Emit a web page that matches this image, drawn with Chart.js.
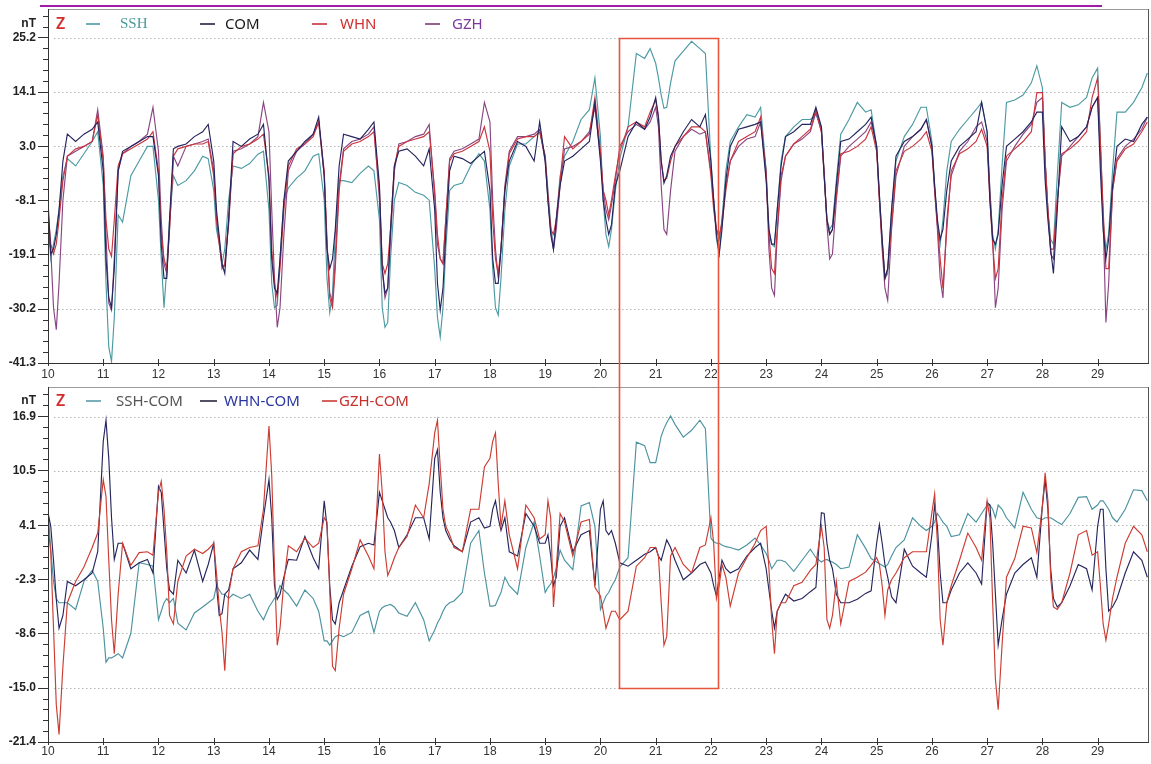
<!DOCTYPE html>
<html><head><meta charset="utf-8">
<script src="https://cdn.jsdelivr.net/npm/chart.js@4.4.1/dist/chart.umd.min.js"></script>
<style>
html,body{margin:0;padding:0;background:#fff;}
#wrap{position:relative;width:1151px;height:764px;overflow:hidden;background:#fff;}
#c1{position:absolute;left:0;top:0;}
#c2{position:absolute;left:0;top:382px;}
#rule{position:absolute;left:40px;top:5px;width:1062px;height:2px;background:#a01ca8;}
</style></head><body>
<div id="wrap">
<canvas id="c1" width="1151" height="382"></canvas>
<canvas id="c2" width="1151" height="382"></canvas>
<div id="rule"></div>
</div>
<script>
// ---------- data ----------
const days = [10,11,12,13,14,15,16,17,18,19,20,21,22,23,24,25,26,27,28,29];
const dayOffsets = [0,0.05,0.1,0.15,0.2,0.27,0.35,0.5,0.65,0.8,0.9];
const xRange = [10, 29.93];

const topTicks = [25.2, 14.1, 3.0, -8.1, -19.1, -30.2, -41.3];
const topRange = [-41.3, 31.1];
const bottomTicks = [16.9, 10.5, 4.1, -2.3, -8.6, -15.0, -21.4];
const bottomRange = [-21.4, 20.4];

const boxDays = [20.34, 22.12];
const boxTopValue = 25.2;
const boxBottomValue = -15.0;

// top panel (Z, nT)
const SSH = [
 -12,-20,-17,-14,-10,-3,0.5,-1,1.5,4,6,
 -5,-25,-38,-41,-32,-11,-12.5,-3,0,3,3,
 -8,-20,-30,-22,-12,-3,-5,-4,-2,1,0.5,
 -6,-14,-17,-21,-18,-8,-1,-1.5,-0.5,1.4,2,
 -10,-25,-30,-29.5,-20,-8,-5.5,-3.5,-2,1,1.5,
 -8,-24,-31,-27,-15,-4,-4,-4.4,-2.5,-1,-2,
 -12,-30,-34,-33,-20,-8,-4.4,-5,-6.4,-7,-8,
 -22,-32,-36,-30,-18,-6,-5,-4.5,-1,1.5,0,
 -10,-22,-30,-31.5,-24,-10,-1,3.5,3.5,5,6,
 1,-6,-13,-18,-12,-3,1,4,8.5,10.5,17,
 5,-8,-15,-17.5,-14,-6,0.5,7,22,21,23,
 20,17,13.5,10.8,11,16,20.5,22.5,24.5,23,22,
 0,-8,-16,-19,-12,-2,4,7,9.5,9,11,
 -2,-14,-17,-17.5,-10,0,5,7,8.5,8.5,9.5,
 7,-3,-12,-14,-13,-4,5.5,8.5,12,10,10.5,
 3,-7,-16,-24,-23,-10,0,5,7.5,11,11,
 4,-5,-13,-17,-12,-2,4,6.5,8.5,10.5,12,
 6,-6,-15,-18,-14,-1,12,12.5,13.5,16,19.5,
 15,0,-10,-16,-17,-3,12,11,11.5,13,17,
 19,4,-12,-18,-15,-2,10,10,12,15,18
];
const COM = [
 -8,-19,-18,-15,-10,0,5.5,4,5.5,6.5,8,
 -2,-20,-28,-30,-22,-2,2,3,4,5,5,
 -3,-17,-24,-24,-12,2.5,3,3.5,5,6,7.5,
 0,-10,-15.5,-21,-23,-12,4,3,4.5,5.5,7.5,
 -4,-20,-26,-27,-20,-8,0,2,4,5.5,9,
 -3,-18,-22,-20,-14,-1,5.5,5,4.5,6.5,8,
 -5,-22,-27,-26,-14,-1,2,2.5,1,-1,2.5,
 -10,-25,-30.5,-26,-15,-2,1,0.5,-0.5,1,2,
 -6,-20,-25,-25,-18,-6,0,4,3,0,8,
 0,-8,-15,-18,-12,-5,0,1,2.5,4,12,
 0,-8,-12,-15,-13,-5,-2,5,8,6.5,9,
 13,9,0,-4.5,-3,1,3,6,8.5,7,9.5,
 0,-8,-15,-19,-14,-4,3,6.5,7,7.5,8,
 -4,-14,-17,-17,-10,-1,5,6,7.5,7.5,11,
 7,-3,-12,-15,-14,-5,4,4.5,6,7.5,9,
 3,-7,-16,-24,-22,-10,1,4,5,6.5,8.5,
 3,-5,-12,-16,-14,-6,0,3,4.5,6,12,
 6,-8,-16,-17,-15,-5,3,4.5,6,8,10,
 10,-4,-12,-18,-23,-10,7,4,5,7,11,
 13,-2,-14,-20,-16,-5,3,4.5,4,7.5,9
];
const WHN = [
 -10,-17,-19,-17,-12,-4,1,2.5,3,4,9.5,
 0,-12,-18,-19.5,-12,-1,1.5,2.5,3.5,4.5,6,
 -2,-15,-20,-22,-14,1,2.5,3,3.5,3.5,4,
 -3,-12,-17,-21.5,-21.5,-12,1.5,3,3.5,4.5,5.5,
 -3,-18,-25,-28,-22,-10,-1,2.5,3.5,5,8,
 -2,-16,-28,-30,-22,-6,2,3.5,4,5,6,
 -6,-21,-23,-21,-14,-1,3,4,4.5,5,6,
 -6,-15,-20,-21,-12,0,1.5,2,3,4,7,
 2,-12,-20,-23,-18,-6,1.5,4.5,5,5,6,
 1,-7,-14,-15,-12,-4,5,2.5,4,5.5,13,
 2,-6,-8,-11,-8,-3,2,7,8,7,10,
 12.5,9,0,-4,-3.5,0,3,5,7,7,6,
 -3,-10,-14,-15,-13,-6,0,4,5,6,9,
 -3,-15,-22,-23,-14,-3,1,3.5,5,6.5,10.5,
 6,-3,-12,-15,-14,-7,1.5,2,3,4.5,7,
 2,-8,-17,-24,-22,-13,-2,2,3,4.5,6,
 2,-6,-13,-20,-26,-14,-2,1.5,2.5,4,6.5,
 3,-8,-17,-24,-22,-8,1,2.5,4,6,14,
 14,0,-10,-18,-18,-8,1.5,2.5,4,6,13,
 17,4,-10,-22,-22,-6,0,2.5,3.5,6,8
];
const GZH = [
 -14,-18,-30,-34.5,-25,-8,1,2,3,4,10.5,
 1,-15,-29,-30.5,-20,-2,1.5,3,4,5.5,11,
 2,-12,-21,-23,-14,1,-1,3,3.5,4,4.5,
 -2,-12,-16,-22,-21,-13,2,2.5,3.5,5,12,
 6,-10,-24,-34,-30,-15,-2,2,3.5,5.5,8,
 -3,-17,-27,-29,-20,-5,2.5,4,4.5,5.5,7,
 -8,-22,-28,-26,-16,-2,3.5,4,5,5.5,7.5,
 -7,-17,-20,-21,-12,0.5,2,2.5,3.5,4.5,12,
 8,-8,-18,-24,-18,-5,2,5,5,5.5,6.5,
 0,-8,-14,-18,-14,-5,2.5,3,4,6,11,
 1,-6,-10,-12,-9,-4,3,6,7.5,6.5,8,
 11,7,-5,-14,-15,-6,2,5,6.5,5.5,6,
 -2,-8,-14,-16,-12,-5,0,3,4.5,5,8,
 -2,-18,-26,-27.5,-15,-4,1,3.5,4.5,6,10,
 6,-2,-13,-20,-19,-8,1,3,4.5,6,8,
 3,-8,-18,-26,-28.5,-14,-3,3,5,6.5,8.5,
 3,-6,-14,-24,-28,-12,-3,2,4,7,8,
 4,-6,-16,-30,-26,-10,0,3,5.5,7.5,12,
 13,0,-10,-19,-20,-8,1,3,5,7,11,
 13,2,-12,-33,-25,-6,0.5,3,4.5,6.5,9
];

// bottom panel (differences)
const SSH_COM = [
 6,1.3,-2.5,-4.5,-5,-5,-5,-5.8,-2.5,-1.2,-2.5,
 -8,-12,-11.5,-11.5,-11.3,-11,-11.5,-8.6,-0.3,-0.5,-0.7,
 -7,-6,-5,-4.5,-5,-4.5,-7.4,-8.2,-6.2,-5.5,-5,
 -4.5,-3,-3.5,-4,-4,-4.5,-4,-4.5,-4,-6,-7,
 -5.5,-5,-4.5,-4,-3,-3.5,-4,-5.4,-3.5,-4.5,-6,
 -9.5,-9.5,-10,-9.5,-9,-8.8,-9,-8.5,-6.5,-6,-8.5,
 -6,-5.6,-5.4,-5.3,-5.2,-5.5,-6.2,-6.6,-5,-7,-9.5,
 -8.2,-7.4,-6.8,-6,-5.4,-5,-4.8,-3.8,2,3.5,-1.5,
 -5.4,-5.4,-5.3,-4.5,-3.8,-2,-3,-4,1.5,4.5,0.5,
 -3.8,-3.2,-2.8,-2,-1,1.2,0,-1.1,6.4,6.8,4,
 -5.8,-5,-4.2,-3.8,-3.1,-2.3,-0.8,0.3,13.9,13.5,11.5,
 11.5,13,14.6,15.5,16.2,17,16,14.5,15.3,16.5,15.5,
 2.6,2.2,2,2,1.8,1.6,1.5,1.2,1.8,2.6,1.8,
 0.8,0,-1,-0.5,0,0,-0.2,-1.3,0,1.3,0.3,
 -0.2,0,0.1,-0.1,-0.2,-0.5,-1,-0.8,3,1.4,0.2,
 -0.2,-0.4,-0.6,-0.8,-0.5,0.5,1.5,2.4,5,4,3.5,
 4,4.5,5.5,5,4.5,4,2.8,3,5.5,4.5,5.5,
 6.5,6.5,6,5,6.5,6,5,3.8,8,6,5,
 4.8,5,5,5,4.8,4.5,4.2,5.5,7.4,7.5,6,
 6.5,7,7,6.5,6,5,4.5,6,8.3,8.2,7
];
const WHN_COM = [
 5.6,4,0,-4.6,-8,-6.5,-2.5,-3,-2.3,-1.5,1,
 14,16.5,12,5,0.1,2,2,-1,-0.3,0.1,-1.5,
 8.7,8,3.5,-1,-3.5,-4,0,-1.5,1.2,-2.5,-0.5,
 2,-3,-6.5,-6.3,-4,-3.5,-1,-0.3,1.2,0.1,5,
 9.5,5,-3,-4.6,-4,-2,0.1,0,2.8,0.3,-1,
 7,4,-3,-7,-7.5,-5,-3.5,-0.7,1.6,2,1.8,
 8,7,6,5,4.5,3.5,1.5,3,5,5,2.5,
 12,13,8,5,3.5,2.5,1.7,1,4.5,5,3.8,
 4,6,7,5,3.5,5,1,0.5,5.5,4,2,
 2,3,0.5,-3,-2,4,5,1,3,3.5,-3,
 6,7,3.5,3,3.5,2,-0.3,-0.7,0,0.7,1,
 1.5,0.5,0,1.2,2.4,1.5,0,-2.3,-1.5,-0.5,-0.2,
 -1.5,-3,-4.2,-2,0,-1,-1.5,-1,0.5,1.5,2,
 -1,-3.5,-6,-8,-6,-5,-4,-4.8,-4.5,-3.7,-3.2,
 5.6,5.5,2,0,-1,-4,-5,-5,-4.6,-3.9,-3.6,
 2,4.2,2,-0.5,-2,-4.3,-5,1.3,-0.7,-1.5,-2,
 3,6.5,4,-1.5,-5,-5,-3.5,-1.5,-0.3,-1.5,-2.8,
 6.8,6.5,2,-4,-10,-7,-4,-1.5,-0.5,0.3,-2,
 6.4,9.5,6,-1,-4.5,-5.5,-5,-3,-0.5,-1,-3.5,
 4,6,6,-1,-6,-5.5,-4.5,-1.5,1,0,-2
];
const GZH_COM = [
 4,1,-8,-17,-20.5,-12.5,-5,-2.5,-0.8,1.5,3.2,
 9.5,7.5,0,-7,-11,-4,2,-0.6,0.9,1,0.6,
 8,9.3,6,1,-6.5,-7.5,-2.5,0.5,1.3,0.8,1.3,
 2,-1.5,-5.5,-8.5,-13,-4,-1,1,1.5,1.7,6,
 15.8,10,-1,-10,-8,-2.5,1.7,1,2.6,1.5,2,
 5,4.5,-3.5,-12.5,-13,-8,-4,-1,2.4,0.5,-1,
 12.5,8,1,-1.8,-1,0.3,1.5,2.8,6.5,5,9,
 15,16.5,11,6,4,3,1.5,1,6,6,11,
 12,14,15,9,4,7,3,-1,6.5,5,2.5,
 3,7,5,-5.5,-1,5.5,4.5,0.5,4.5,4.8,-3.2,
 -4.2,-6,-8,-7,-6,-6,-7,-6,-0.7,0.3,1.5,
 1.5,0.5,-5,-10,-9,0.5,1.5,-0.5,-1.5,1.5,1.8,
 5,2,-4.5,-3,-0.5,-2,-5.4,-1.5,0.3,2,3.5,
 4,-1,-7,-11,-6,-5,-5,-3,-2.6,-1.2,-0.5,
 4,1.5,-7,-8,-6.5,-2.5,-7.5,-2.5,-2,-1.4,-0.6,
 0.3,-0.5,-3,-6.5,-3.5,-2.3,-1.5,0.3,1,1,1,
 5.6,7.8,2,-7,-10,-5,-3,0,3.2,1.5,0,
 7,5,-5,-14,-17.6,-10,-2,0.2,4,3.8,0.9,
 6.4,10.3,7,-2,-5.5,-5.8,-5,-1.5,3,3.5,0.6,
 1,-3,-7.5,-9.4,-7.5,-4.5,-2,2,4,3,1
];

// ---------- build ----------
const times = [];
days.forEach(d => dayOffsets.forEach(o => times.push(+(d + o).toFixed(2))));
const pts = arr => arr.map((v, i) => ({x: times[i], y: v}));

function ds(label, arr, color, order) {
  return {label, data: pts(arr), borderColor: color, borderWidth: 1.15,
          pointRadius: 0, tension: 0, fill: false, order};
}

const SANS = '"Noto Sans", "Liberation Sans", sans-serif';

function decoPlugin(cfg) {
  return {
    id: 'deco',
    beforeDatasetsDraw(chart) {
      const {ctx, chartArea: a, scales: {y}} = chart;
      ctx.save();
      ctx.strokeStyle = '#b4b4b4';
      ctx.lineWidth = 1;
      ctx.setLineDash([1.5, 2.5]);
      cfg.ticks.forEach(v => {
        if (v === cfg.range[0]) return;
        const py = Math.round(y.getPixelForValue(v)) + 0.5;
        ctx.beginPath(); ctx.moveTo(a.left + 6, py); ctx.lineTo(a.right - 2, py); ctx.stroke();
      });
      ctx.restore();
    },
    afterDraw(chart) {
      const {ctx, chartArea: a, scales: {x, y}} = chart;
      ctx.save();
      // frame
      ctx.lineWidth = 1;
      ctx.strokeStyle = '#9a9a9a';
      ctx.beginPath(); ctx.moveTo(a.left, a.top + 0.5); ctx.lineTo(a.right, a.top + 0.5); ctx.stroke();
      ctx.strokeStyle = '#555';
      ctx.beginPath(); ctx.moveTo(a.right - 0.5, a.top); ctx.lineTo(a.right - 0.5, a.bottom); ctx.stroke();
      ctx.strokeStyle = '#333';
      ctx.beginPath(); ctx.moveTo(a.left + 0.5, a.top); ctx.lineTo(a.left + 0.5, a.bottom + 1); ctx.stroke();
      ctx.beginPath(); ctx.moveTo(a.left, a.bottom + 0.5); ctx.lineTo(a.right, a.bottom + 0.5); ctx.stroke();
      // y ticks (major + minor)
      const step = (cfg.ticks[0] - cfg.ticks[1]) / 5;
      for (let v = cfg.range[0]; v <= cfg.range[1] + 1e-6; v += step) {
        const py = Math.round(y.getPixelForValue(v)) + 0.5;
        const major = cfg.ticks.some(t => Math.abs(t - v) < step / 3);
        ctx.beginPath(); ctx.moveTo(a.left - (major ? 10 : 5), py); ctx.lineTo(a.left, py); ctx.stroke();
      }
      // x ticks
      days.forEach(d => {
        const px = Math.round(x.getPixelForValue(d)) + 0.5;
        ctx.beginPath(); ctx.moveTo(px, a.bottom - 4); ctx.lineTo(px, a.bottom + 3); ctx.stroke();
      });
      // nT and Z
      const ly = cfg.legendY;
      ctx.fillStyle = '#222';
      ctx.font = 'bold 12px "Liberation Sans", Arial, sans-serif';
      ctx.textAlign = 'right'; ctx.textBaseline = 'middle';
      ctx.fillText('nT', 36, ly);
      ctx.textAlign = 'left';
      ctx.fillStyle = '#d42c2c';
      ctx.font = '600 16px ' + SANS;
      ctx.fillText('Z', 56, ly);
      // legend
      cfg.legend.forEach(it => {
        ctx.strokeStyle = it.line; ctx.lineWidth = 1.6;
        ctx.beginPath(); ctx.moveTo(it.x0, ly); ctx.lineTo(it.x1, ly); ctx.stroke();
        ctx.fillStyle = it.color; ctx.font = it.font;
        ctx.fillText(it.text, it.tx, ly + 0.5);
      });
      // highlight box
      const xl = Math.round(x.getPixelForValue(boxDays[0])) + 0.5;
      const xr = Math.round(x.getPixelForValue(boxDays[1])) + 0.5;
      ctx.strokeStyle = '#e6553c'; ctx.lineWidth = 1.6;
      ctx.beginPath();
      if (cfg.box === 'top') {
        const yt = Math.round(y.getPixelForValue(boxTopValue)) + 0.5;
        ctx.moveTo(xl, chart.height); ctx.lineTo(xl, yt); ctx.lineTo(xr, yt); ctx.lineTo(xr, chart.height);
      } else {
        const yb = Math.round(y.getPixelForValue(boxBottomValue)) + 0.5;
        ctx.moveTo(xl, 0); ctx.lineTo(xl, yb); ctx.lineTo(xr, yb); ctx.lineTo(xr, 0);
      }
      ctx.stroke();
      ctx.restore();
    }
  };
}

function makeChart(el, datasets, ticks, range, padTop, xHeight, xPad, deco) {
  return new Chart(el, {
    type: 'line',
    data: {datasets},
    options: {
      responsive: false, animation: false, parsing: false,
      layout: {padding: {top: padTop, right: 2, left: 0, bottom: 0}},
      plugins: {legend: {display: false}, tooltip: {enabled: false}},
      scales: {
        x: {type: 'linear', min: xRange[0], max: xRange[1],
            grid: {display: false, drawTicks: false}, border: {display: false},
            afterBuildTicks: s => { s.ticks = days.map(v => ({value: v})); },
            afterFit: s => { s.height = xHeight; s.paddingLeft = 0; s.paddingRight = 0; },
            ticks: {padding: xPad, color: '#333', maxRotation: 0, autoSkip: false,
                    font: {family: '"Liberation Sans", Arial, sans-serif', size: 12},
                    callback: v => String(v)}},
        y: {type: 'linear', min: range[0], max: range[1],
            grid: {display: false, drawTicks: false}, border: {display: false},
            afterBuildTicks: s => { s.ticks = ticks.map(v => ({value: v})); },
            afterFit: s => { s.width = 48; s.paddingTop = 0; s.paddingBottom = 0; },
            ticks: {padding: 12, color: '#222',
                    font: {family: '"Liberation Sans", Arial, sans-serif', size: 12, weight: 'bold'},
                    callback: v => Number(v).toFixed(1)}}
      }
    },
    plugins: [decoPlugin(deco)]
  });
}

makeChart(document.getElementById('c1'), [
  ds('SSH', SSH, '#4c9aa2', 4),
  ds('GZH', GZH, '#8a4682', 3),
  ds('WHN', WHN, '#c9343e', 2),
  ds('COM', COM, '#24245e', 1)
], topTicks, topRange, 9, 19, 4, {
  ticks: topTicks, range: topRange, legendY: 24, box: 'top',
  legend: [
    {x0: 86, x1: 100, tx: 120, text: 'SSH', line: '#4c9aa2', color: '#4a9a9a', font: '15px "Liberation Serif", "DejaVu Serif", serif'},
    {x0: 200, x1: 215, tx: 225, text: 'COM', line: '#24243e', color: '#1a1a1a', font: '15px ' + SANS},
    {x0: 312, x1: 327, tx: 340, text: 'WHN', line: '#c9343e', color: '#d0302e', font: '15px ' + SANS},
    {x0: 425, x1: 440, tx: 452, text: 'GZH', line: '#7a3a6e', color: '#7b3a9a', font: '15px ' + SANS}
  ]
});

makeChart(document.getElementById('c2'), [
  ds('SSH-COM', SSH_COM, '#4c93a0', 3),
  ds('WHN-COM', WHN_COM, '#26265e', 2),
  ds('GZH-COM', GZH_COM, '#cc3c32', 1)
], bottomTicks, bottomRange, 5, 22, 2, {
  ticks: bottomTicks, range: bottomRange, legendY: 19, box: 'bottom',
  legend: [
    {x0: 86, x1: 101, tx: 116, text: 'SSH-COM', line: '#5a9aaa', color: '#555', font: '15px ' + SANS},
    {x0: 200, x1: 217, tx: 224, text: 'WHN-COM', line: '#26263e', color: '#2a36a0', font: '15px ' + SANS},
    {x0: 322, x1: 337, tx: 339, text: 'GZH-COM', line: '#cc3c32', color: '#c8302c', font: '15px ' + SANS}
  ]
});
</script>
</body></html>
